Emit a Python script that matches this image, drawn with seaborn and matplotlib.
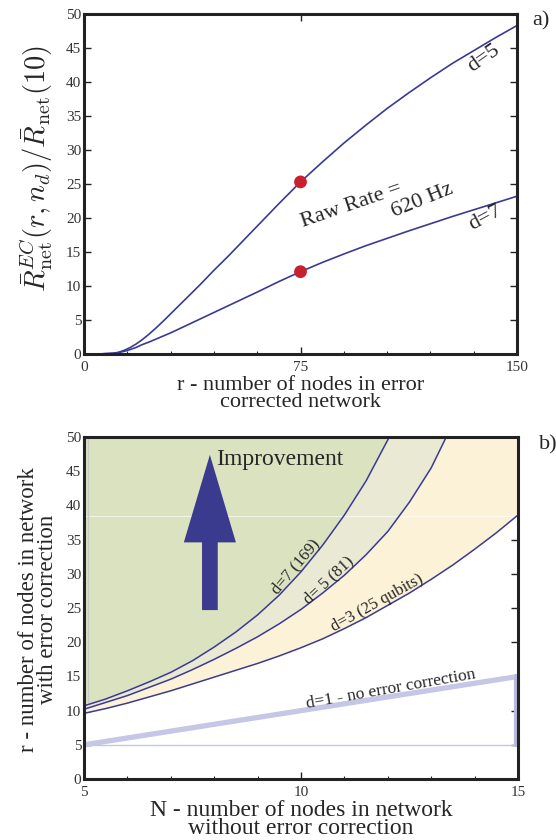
import numpy as np
import pandas as pd
import matplotlib
matplotlib.use("Agg")
import matplotlib.pyplot as plt
from matplotlib.ticker import MultipleLocator
import seaborn as sns

# panel a) - rate ratio against r (read off the curves)
r_vals = [0, 5, 10, 12, 14, 16, 18, 20, 22.5, 25, 27.5, 30, 35, 40, 45, 50, 55, 60,
          67.5, 75, 82.5, 90, 97.5, 105, 112.5, 120, 127.5, 135, 142.5, 150]
rate_d5 = [0, 0, 0.1, 0.25, 0.55, 0.95, 1.45, 2.05, 2.9, 3.85, 4.85, 5.9, 8.0, 10.1,
           12.3, 14.4, 16.6, 18.8, 22.1, 25.3, 28.2, 31.0, 33.6, 36.1, 38.4, 40.6,
           42.7, 44.6, 46.5, 48.3]
rate_d7 = [0, 0, 0.1, 0.2, 0.4, 0.65, 0.95, 1.35, 1.75, 2.2, 2.65, 3.1, 4.1, 5.1,
           6.1, 7.1, 8.1, 9.1, 10.65, 12.1, 13.45, 14.7, 15.9, 17.0, 18.1, 19.15,
           20.2, 21.2, 22.2, 23.2]
dot_r = [75, 75]
dot_rate = [25.3, 12.1]

# panel b) - r needed against N for each code distance
n_d3 = [5, 5.5, 6, 6.5, 7, 7.5, 8, 8.5, 9, 9.5, 10, 10.5, 11, 11.5, 12, 12.5, 13,
        13.5, 14, 14.5, 15]
r_d3 = [9.6, 10.3, 11.1, 12.0, 12.9, 13.9, 14.9, 15.9, 16.9, 18.0, 19.2, 20.5, 22.0,
        23.6, 25.4, 27.2, 29.2, 31.3, 33.6, 36.0, 38.6]
n_d5 = [5, 5.5, 6, 6.5, 7, 7.5, 8, 8.5, 9, 9.5, 10, 10.5, 11, 11.5, 12, 12.5, 13, 13.5]
r_d5 = [10.2, 11.2, 12.2, 13.4, 14.6, 16.0, 17.5, 19.1, 20.8, 22.7, 24.8, 27.2, 29.8,
        32.8, 36.2, 40.5, 45.5, 52.0]
n_d7 = [5, 5.5, 6, 6.5, 7, 7.5, 8, 8.5, 9, 9.5, 10, 10.5, 11, 11.5, 12, 12.25]
r_d7 = [10.7, 11.7, 12.9, 14.2, 15.6, 17.3, 19.3, 21.5, 24.0, 26.9, 30.3, 34.2, 38.6,
        43.6, 49.6, 53.0]
n_d1 = [5, 15]
r_d1 = [5, 15]

sns.set_theme(style="ticks")
plt.rcParams["font.family"] = ["Liberation Serif", "DejaVu Serif"]
plt.rcParams["mathtext.fontset"] = "cm"
plt.rcParams["axes.linewidth"] = 2.2
plt.rcParams["axes.edgecolor"] = "#222222"

navy = "#3a3a94"
lav = "#c6c6e6"

fig = plt.figure(figsize=(5.56, 8.4), dpi=100)
ax1 = fig.add_axes([0.1511, 0.5786, 0.7788, 0.4048])
ax2 = fig.add_axes([0.1511, 0.0726, 0.7806, 0.4071])


def style_ticks(ax):
    ax.tick_params(which="both", direction="in", top=True, right=True,
                   color="#222222", labelcolor="#333333", labelsize=11)
    ax.tick_params(which="major", length=5, width=1)
    ax.tick_params(which="minor", length=2.5, width=0.8, top=False, right=False)
    ax.tick_params(axis="y", pad=2)
    ax.tick_params(axis="x", pad=5)


# ---- panel a
df_a = pd.DataFrame({
    "r": r_vals + r_vals,
    "rate": rate_d5 + rate_d7,
    "d": ["d=5"] * len(r_vals) + ["d=7"] * len(r_vals),
})
sns.lineplot(data=df_a, x="r", y="rate", hue="d", palette=[navy, navy],
             lw=1.2, legend=False, ax=ax1)
sns.scatterplot(x=dot_r, y=dot_rate, s=85, color="#c8202e", edgecolor="none",
                zorder=5, ax=ax1)

ax1.set_xlim(0, 150)
ax1.set_ylim(0, 50)
ax1.set_xticks([0, 75, 150])
ax1.set_yticks(range(0, 51, 5))
ax1.xaxis.set_minor_locator(MultipleLocator(15))
style_ticks(ax1)

ax1.text(138.5, 43.4, "d=5", rotation=35, ha="center", va="center", fontsize=16)
ax1.text(138.9, 20.0, "d=7", rotation=28, ha="center", va="center", fontsize=16)
ax1.text(92.7, 21.8, "Raw Rate =", rotation=19, ha="center", va="center", fontsize=16)
ax1.text(117.2, 22.6, "620 Hz", rotation=22, ha="center", va="center", fontsize=16)

ax1.set_xlabel("r - number of nodes in error\ncorrected network", fontsize=16,
               linespacing=0.85)
ax1.xaxis.set_label_coords(0.5, -0.065)
ax1.set_ylabel(r"$\bar{R}^{EC}_{\rm net}(r,n_d)/\bar{R}_{\rm net}(10)$", fontsize=20.5)
ax1.yaxis.set_label_coords(-0.068, 0.547)
fig.text(541 / 556, 1 - 21 / 840, "a)", ha="center", va="center", fontsize=16)

# ---- panel b
ax2.fill(n_d3 + [15, 5], r_d3 + [55, 55], color="#fcf2d8", lw=0, zorder=1)
ax2.fill(n_d5 + [n_d5[-1], 5], r_d5 + [55, 55], color="#eae9d4", lw=0, zorder=1)
ax2.fill(n_d7 + [n_d7[-1], 5], r_d7 + [55, 55], color="#dbe2bf", lw=0, zorder=1)
ax2.axhline(38.5, color="white", lw=0.8, alpha=0.6, zorder=1.5)
ax2.plot([5.09, 5.09], [11.2, 50], color="#c8c8c8", lw=1, zorder=1.5)

df_b = pd.DataFrame({
    "N": n_d3 + n_d5 + n_d7,
    "r": r_d3 + r_d5 + r_d7,
    "d": ["d=3"] * len(n_d3) + ["d=5"] * len(n_d5) + ["d=7"] * len(n_d7),
})
sns.lineplot(data=df_b, x="N", y="r", hue="d", palette=[navy] * 3, lw=1.1,
             legend=False, ax=ax2, zorder=3)

sns.lineplot(x=n_d1, y=r_d1, color=lav, lw=3.8, ax=ax2, zorder=2)
ax2.plot([5, 15], [5, 5], color=lav, lw=1.0, zorder=2)
ax2.plot([14.96, 14.96], [5, 15], color="#b9b9dd", lw=3, zorder=2)

ax2.arrow(7.9, 24.7, 0, 47.4 - 24.7, width=0.362, head_width=1.2,
          head_length=12.8, length_includes_head=True, color="#3a3a8e",
          lw=0, zorder=4)

ax2.text(8.05, 45.9, "Improvement", ha="left", va="baseline", fontsize=17)
ax2.text(9.88, 31.1, "d=7 (169)", rotation=50, ha="center", va="center", fontsize=12)
ax2.text(10.63, 29.1, "d= 5 (81)", rotation=43, ha="center", va="center", fontsize=12)
ax2.text(11.75, 25.8, "d=3 (25 qubits)", rotation=29, ha="center", va="center", fontsize=12)
ax2.text(12.07, 13.2, "d=1 - no error correction", rotation=10, ha="center",
         va="center", fontsize=12.5)

ax2.set_xlim(5, 15)
ax2.set_ylim(0, 50)
ax2.set_xticks([5, 10, 15])
ax2.set_yticks(range(0, 51, 5))
ax2.xaxis.set_minor_locator(MultipleLocator(1))
style_ticks(ax2)
for sp in ax2.spines.values():
    sp.set_zorder(6)

ax2.set_xlabel("N - number of nodes in network\nwithout error correction", fontsize=17,
               linespacing=0.85)
ax2.xaxis.set_label_coords(0.5, -0.06)
ax2.set_ylabel("r - number of nodes in network\nwith error correction", fontsize=16.5,
               linespacing=0.85)
ax2.yaxis.set_label_coords(-0.06, 0.495)
fig.text(548 / 556, 1 - 445 / 840, "b)", ha="center", va="center", fontsize=16)

fig.savefig("out.png", dpi=100)
